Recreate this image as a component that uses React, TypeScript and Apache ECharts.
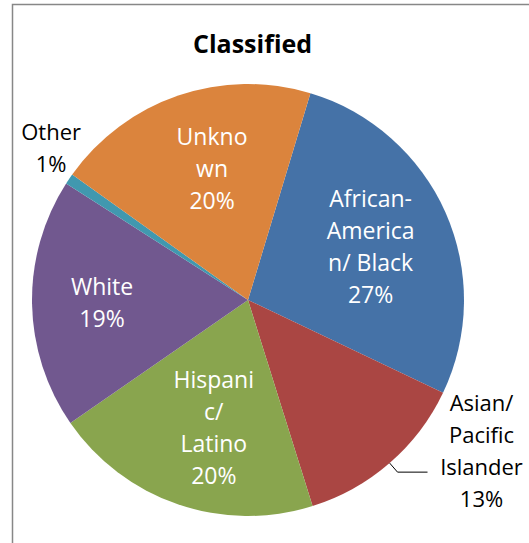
import React, { useEffect, useRef } from "react";
import * as echarts from "echarts";

const categories = [
  "African-American/ Black",
  "Asian/ Pacific Islander",
  "Hispanic/ Latino",
  "White",
  "Other",
  "Unknown",
];
// wrapped display text, as shown in the chart
const labelText = [
  "African-\nAmerica\nn/ Black",
  "Asian/\nPacific\nIslander",
  "Hispani\nc/\nLatino",
  "White",
  "Other",
  "Unkno\nwn",
];
const values = [27.4, 13.1, 20.2, 18.7, 0.8, 19.8];
const colors = ["#4572A7", "#AA4643", "#89A54E", "#71588F", "#4198AF", "#DB843D"];
const outsideLabels = [1, 4];
const titleText = "Classified";

const FONT = "'Open Sans', 'Liberation Sans', sans-serif";

export default function App() {
  const ref = useRef<HTMLDivElement>(null);
  useEffect(() => {
    if (!ref.current) return;
    const chart = echarts.init(ref.current, null, { renderer: "svg" });
    const pct = (p: any) => `${Math.round(p.percent)}%`;
    const insideFormatter = (p: any) => `${labelText[p.dataIndex]}\n${pct(p)}`;
    const outsideFormatter = (p: any) =>
      [...labelText[p.dataIndex].split("\n"), pct(p)].map((l) => `{c|${l}}`).join("\n");
    const rich = { c: { align: "center", fontFamily: FONT, fontSize: 22, lineHeight: 32, color: "#000" } };
    const insidePads: Record<number, number[]> = {
      0: [0, 0, 0, 2],
      2: [0, 0, 0, 18],
      3: [0, 26, 0, 0],
      5: [0, 0, 0, 14],
    };
    const insideShift: Record<number, { dy?: number }> = {
      2: { dy: 1 },
      5: { dy: -6 },
    };
    const outsideCfg: Record<number, any> = {
      1: {
        label: { show: true, width: 100, padding: [0, 0, 44, 0], distanceToLabelLine: 4 },
        labelLine: { show: true, length: 12, length2: 30 },
      },
      4: {
        label: { show: true, width: 66, padding: [0, 0, 64, 0], distanceToLabelLine: -15 },
        labelLine: { show: false, length: 0, length2: 0 },
      },
    };
    chart.setOption({
      animation: false,
      graphic: [
        {
          type: "rect",
          silent: true,
          shape: { x: 12.5, y: 4.5, width: 700, height: 700 },
          style: { fill: "none", stroke: "#878787", lineWidth: 1.5 },
        },
        {
          type: "text",
          x: 252.5,
          y: 43,
          style: {
            text: titleText,
            textAlign: "center",
            textVerticalAlign: "middle",
            fontFamily: FONT,
            fontSize: 25,
            fontWeight: "bold",
            fill: "#000",
          },
        },
      ],
      series: [
        {
          type: "pie",
          center: [248, 300],
          radius: 216,
          startAngle: 73.2,
          clockwise: true,
          avoidLabelOverlap: false,
          itemStyle: { borderWidth: 0 },
          label: {
            show: true,
            position: "outside",
            formatter: outsideFormatter,
            rich,
            fontFamily: FONT,
            fontSize: 22,
            lineHeight: 32,
            color: "#000",
          },
          labelLine: { show: true, smooth: false, lineStyle: { color: "#000", width: 1 } },
          emphasis: { disabled: true },
          data: values.map((v, i) => ({
            value: v,
            name: categories[i],
            itemStyle: { color: colors[i] },
            ...(outsideLabels.includes(i)
              ? outsideCfg[i]
              : { label: { show: false }, labelLine: { show: false } }),
          })),
        },
        {
          type: "pie",
          center: [248, 300],
          radius: [0, 260],
          startAngle: 73.2,
          clockwise: true,
          silent: true,
          z: 3,
          itemStyle: { color: "rgba(0,0,0,0)", borderWidth: 0 },
          label: {
            show: true,
            position: "inside",
            formatter: insideFormatter,
            fontFamily: FONT,
            fontSize: 23,
            lineHeight: 32,
            color: "#fff",
            align: "center",
          },
          labelLayout: (params: any) => insideShift[params.dataIndex] || {},
          labelLine: { show: false },
          emphasis: { disabled: true },
          data: values.map((v, i) => ({
            value: v,
            name: categories[i],
            label: outsideLabels.includes(i) ? { show: false } : { padding: insidePads[i] },
          })),
        },
      ],
    });
    return () => chart.dispose();
  }, []);
  return (
    <div
      ref={ref}
      style={{ position: "absolute", left: 0, top: 0, width: 529, height: 543, background: "#fff" }}
    />
  );
}
